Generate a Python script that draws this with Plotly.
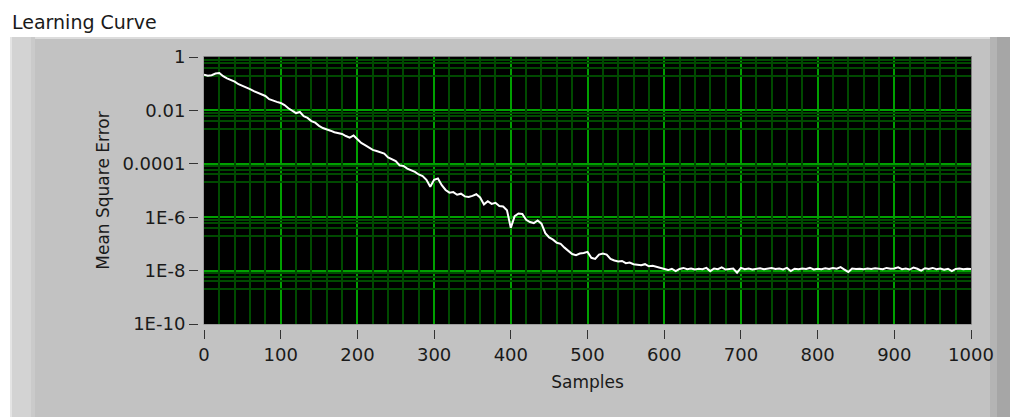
import plotly.graph_objects as go

# ---------------- data ----------------
samples = list(range(0, 1001, 5))

log_mse = [
    -0.66, -0.70, -0.68, -0.62, -0.60, -0.72, -0.80, -0.86, -0.92, -1.02,
    -1.08, -1.12, -1.20, -1.28, -1.34, -1.38, -1.46, -1.58, -1.64, -1.68,
    -1.72, -1.80, -1.92, -2.02, -2.10, -2.06, -2.22, -2.28, -2.40, -2.46,
    -2.58, -2.66, -2.70, -2.76, -2.82, -2.86, -2.88, -2.96, -3.02, -2.94,
    -3.10, -3.22, -3.30, -3.38, -3.48, -3.52, -3.56, -3.62, -3.76, -3.82,
    -3.90, -4.06, -4.08, -4.18, -4.24, -4.30, -4.40, -4.46, -4.60, -4.86,
    -4.60, -4.55, -4.80, -4.98, -5.08, -5.06, -5.16, -5.12, -5.22, -5.24,
    -5.20, -5.14, -5.26, -5.52, -5.40, -5.50, -5.46, -5.58, -5.60, -5.74,
    -6.40, -5.96, -5.86, -5.88, -6.10, -6.18, -6.22, -6.12, -6.24, -6.60,
    -6.76, -6.84, -6.96, -7.00, -7.14, -7.26, -7.38, -7.42, -7.36, -7.34,
    -7.30, -7.52, -7.56, -7.40, -7.36, -7.40, -7.56, -7.62, -7.66, -7.64,
    -7.72, -7.70, -7.76, -7.78, -7.80, -7.76, -7.84, -7.82, -7.86, -7.88,
    -7.92, -7.98, -7.93, -8.02, -7.94, -7.90, -7.95, -7.92, -7.96, -7.93,
    -7.95, -7.90, -8.02, -7.92, -7.95, -7.88, -7.96, -7.94, -7.92, -8.08,
    -7.90, -7.95, -7.92, -7.96, -7.93, -7.91, -7.95, -7.92, -7.90, -7.94,
    -7.92, -7.96, -7.90, -8.02, -7.93, -7.95, -7.92, -7.94, -7.90, -7.96,
    -7.93, -7.95, -7.91, -7.94, -7.90, -7.93, -7.87, -7.96, -8.05, -7.92,
    -7.94, -7.93, -7.95, -7.92, -7.94, -7.91, -7.93, -7.95, -7.90, -7.93,
    -7.92, -7.88, -7.95, -7.92, -7.96, -7.89, -7.93, -8.00, -7.91, -7.94,
    -7.90, -7.95, -7.92, -7.97, -7.93, -8.02, -7.94, -7.92, -7.95, -7.93,
    -7.94,
]
mse = [10 ** v for v in log_mse]

y_tick_vals = [1, 1e-2, 1e-4, 1e-6, 1e-8, 1e-10]
y_tick_text = ["1", "0.01", "0.0001", "1E-6", "1E-8", "1E-10"]
y_minor_factors = [0.8, 0.6, 0.4, 0.2]
y_minor_vals = [m * f for m in y_tick_vals[:-1] for f in y_minor_factors]

x_tick_vals = list(range(0, 1001, 100))
x_minor_vals = [v for v in range(0, 1001, 20) if v % 100 != 0]

# ---------------- geometry helpers ----------------
W, H = 1010, 417
def px(x):
    return x / W
def py(y):
    return (H - y) / H

FONT = "DejaVu Sans"
PANEL = "#C2C2C2"
MAJOR_GRID = "rgb(0,160,0)"
MINOR_GRID = "rgb(0,74,0)"
TEXT = "#1A1A1A"

fig = go.Figure()
# empty trace that only carries the minor-grid axes
fig.add_trace(go.Scatter(x=[], y=[], xaxis="x2", yaxis="y2",
                         showlegend=False, hoverinfo="skip"))
fig.add_trace(go.Scatter(
    x=samples, y=mse, mode="lines",
    line=dict(color="white", width=2),
    showlegend=False,
))

def rect(x0, x1, y0, y1, color, layer="below"):
    return dict(type="rect", xref="paper", yref="paper",
                x0=px(x0), x1=px(x1), y0=py(y1), y1=py(y0),
                fillcolor=color, line=dict(width=0), layer=layer)

shapes = [
    rect(0, W, 0, 37, "white"),
    rect(0, 10, 0, H, "white"),
    rect(10, W, 37, 39, "#DCDCDC"),
    rect(10, 31, 37, H, "#D3D3D3"),
    rect(31, 35, 37, H, "#CACACA"),
    rect(10, 12, 37, H, "#E4E4E4"),
    rect(990, 997, 37, H, "#B4B4B4"),
    rect(997, W, 37, H, "#A6A6A6"),
    # gap between the plot frame and the tick marks (LabVIEW style)
    rect(198, 203.5, 50, 332, PANEL, layer="above"),
    rect(198, 980, 324.5, 330, PANEL, layer="above"),
]

fig.update_layout(
    template="none",
    width=W, height=H,
    autosize=False,
    margin=dict(l=0, r=0, t=0, b=0, pad=0, autoexpand=False),
    paper_bgcolor=PANEL,
    plot_bgcolor="black",
    font=dict(family=FONT, color=TEXT),
    title=dict(
        text="Learning Curve",
        x=px(12), xanchor="left", xref="paper",
        y=py(22), yanchor="middle", yref="container",
        font=dict(family=FONT, size=19, color=TEXT),
        automargin=False,
    ),
    shapes=shapes,
    xaxis=dict(
        domain=[px(204), px(971)],
        range=[0, 1000],
        tickmode="array", tickvals=x_tick_vals,
        ticks="outside", ticklen=14, tickwidth=1, tickcolor="#333333",
        tickfont=dict(family=FONT, size=18, color=TEXT),
        showgrid=True, gridcolor=MAJOR_GRID, gridwidth=2,
        zeroline=False, automargin=False,
        showline=True, linecolor="#7A7A7A", linewidth=1, mirror=True,
        title=dict(text="Samples", standoff=12,
                   font=dict(family=FONT, size=17, color=TEXT)),
    ),
    yaxis=dict(
        domain=[py(324), py(57)],
        type="log", range=[-10, 0],
        tickmode="array", tickvals=y_tick_vals, ticktext=y_tick_text,
        ticks="outside", ticklen=14, tickwidth=1, tickcolor="#333333",
        tickfont=dict(family=FONT, size=18, color=TEXT),
        showgrid=True, gridcolor=MAJOR_GRID, gridwidth=2,
        zeroline=False, automargin=False,
        showline=True, linecolor="#7A7A7A", linewidth=1, mirror=True,
        title=dict(text="Mean Square Error", standoff=8,
                   font=dict(family=FONT, size=17, color=TEXT)),
    ),
    xaxis2=dict(
        overlaying="x", anchor="y2", range=[0, 1000],
        tickmode="array", tickvals=x_minor_vals,
        showticklabels=False, ticks="",
        showgrid=True, gridcolor=MINOR_GRID, gridwidth=1.5,
        zeroline=False, showline=False, automargin=False,
    ),
    yaxis2=dict(
        overlaying="y", anchor="x2", type="log", range=[-10, 0],
        tickmode="array", tickvals=y_minor_vals,
        showticklabels=False, ticks="",
        showgrid=True, gridcolor=MINOR_GRID, gridwidth=1.5,
        zeroline=False, showline=False, automargin=False,
    ),
)

fig.write_html("out.html")
